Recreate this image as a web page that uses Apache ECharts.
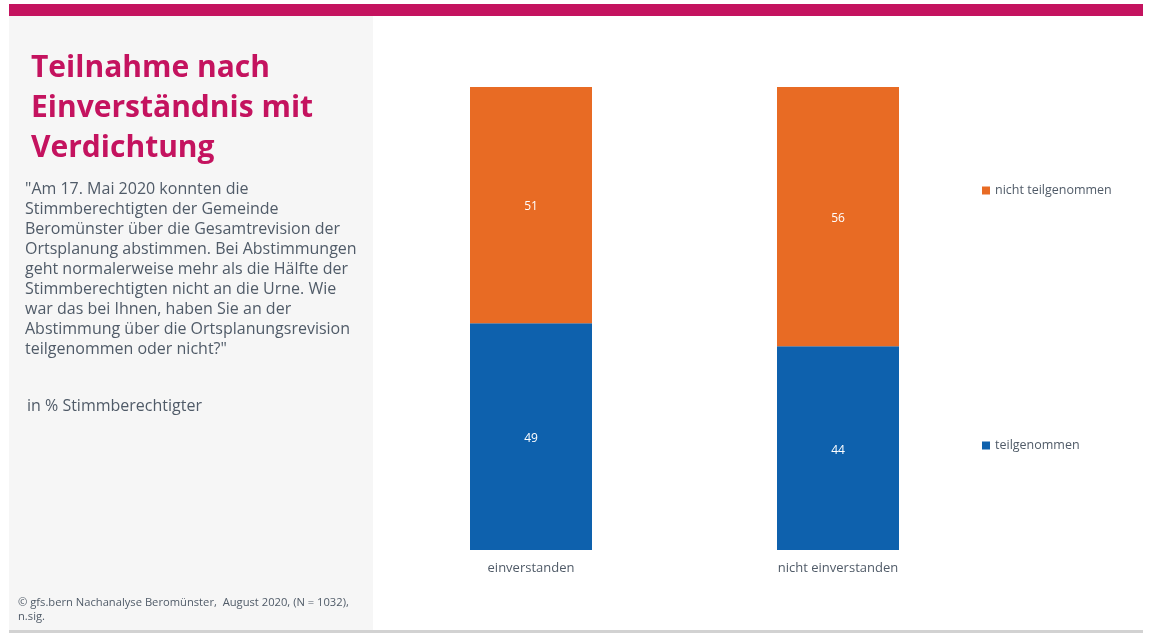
<!DOCTYPE html>
<html><head><meta charset="utf-8">
<script src="https://cdn.jsdelivr.net/npm/echarts@6/dist/echarts.min.js"></script>
<style>html,body{margin:0;padding:0;background:#fff}#c{width:1166px;height:633px}</style>
</head><body><div id="c"></div>
<script>
const categories = ['einverstanden', 'nicht einverstanden'];
const teilgenommen = [49, 44];
const nichtTeilgenommen = [51, 56];
const seriesNames = ['teilgenommen', 'nicht teilgenommen'];
const titleLines = ['Teilnahme nach', 'Einverständnis mit', 'Verdichtung'];
const questionLines = [
  '"Am 17. Mai 2020 konnten die',
  'Stimmberechtigten der Gemeinde',
  'Beromünster über die Gesamtrevision der',
  'Ortsplanung abstimmen. Bei Abstimmungen',
  'geht normalerweise mehr als die Hälfte der',
  'Stimmberechtigten nicht an die Urne. Wie',
  'war das bei Ihnen, haben Sie an der',
  'Abstimmung über die Ortsplanungsrevision',
  'teilgenommen oder nicht?"'
];
const unitText = 'in % Stimmberechtigter';
const sourceLines = ['© gfs.bern Nachanalyse Beromünster,  August 2020, (N = 1032),', 'n.sig.'];

const FONT = '"Open Sans", sans-serif';
const TXT = '#505b68';
const chart = echarts.init(document.getElementById('c'), null, {renderer: 'canvas'});
chart.setOption({
  backgroundColor: '#ffffff',
  animation: false,
  textStyle: {fontFamily: FONT},
  graphic: [
    {type: 'rect', left: 9, top: 4, shape: {width: 1134, height: 12}, style: {fill: '#c4135f'}, z: -1},
    {type: 'rect', left: 9, top: 16, shape: {width: 364, height: 614}, style: {fill: '#f6f6f6'}, z: -1},
    {type: 'rect', left: 9, top: 630, shape: {width: 1134, height: 3}, style: {fill: '#d2d2d2'}, z: -1},
    {type: 'text', left: 31, top: 48, style: {text: titleLines.join('\n'), font: 'bold 30px ' + FONT, fill: '#c4135f', lineHeight: 40}},
    {type: 'text', left: 25, top: 179, style: {text: questionLines.join('\n'), font: '16px ' + FONT, fill: TXT, lineHeight: 20}},
    {type: 'text', left: 27, top: 398, style: {text: unitText, font: '16px ' + FONT, fill: TXT}},
    {type: 'text', left: 18, top: 596, style: {text: sourceLines.join('\n'), font: '11.2px ' + FONT, fill: TXT, lineHeight: 14}}
  ],
  legend: [
    {data: [seriesNames[1]], left: 977, top: 179, orient: 'vertical', icon: 'rect', itemWidth: 8, itemHeight: 8, itemGap: 4,
     textStyle: {color: TXT, fontSize: 12.5, fontFamily: FONT}, selectedMode: false},
    {data: [seriesNames[0]], left: 977, top: 434, orient: 'vertical', icon: 'rect', itemWidth: 8, itemHeight: 8, itemGap: 4,
     textStyle: {color: TXT, fontSize: 12.5, fontFamily: FONT}, selectedMode: false}
  ],
  grid: {left: 377.5, right: 174.5, top: 87, bottom: 83, containLabel: false},
  xAxis: {type: 'category', data: categories, axisLine: {show: false}, axisTick: {show: false},
    axisLabel: {color: TXT, fontSize: 13, margin: 12, fontFamily: FONT}},
  yAxis: {type: 'value', min: 0, max: 100, show: false, splitLine: {show: false}},
  series: [
    {name: seriesNames[0], type: 'bar', stack: 's', data: teilgenommen, barWidth: 122,
     itemStyle: {color: '#0e61ad'},
     label: {show: true, position: 'inside', offset: [0, 2], color: '#fff', fontSize: 12, fontFamily: FONT}},
    {name: seriesNames[1], type: 'bar', stack: 's', data: nichtTeilgenommen, barWidth: 122,
     itemStyle: {color: '#e86b24'},
     label: {show: true, position: 'inside', offset: [0, 2], color: '#fff', fontSize: 12, fontFamily: FONT}}
  ]
});
</script></body></html>
